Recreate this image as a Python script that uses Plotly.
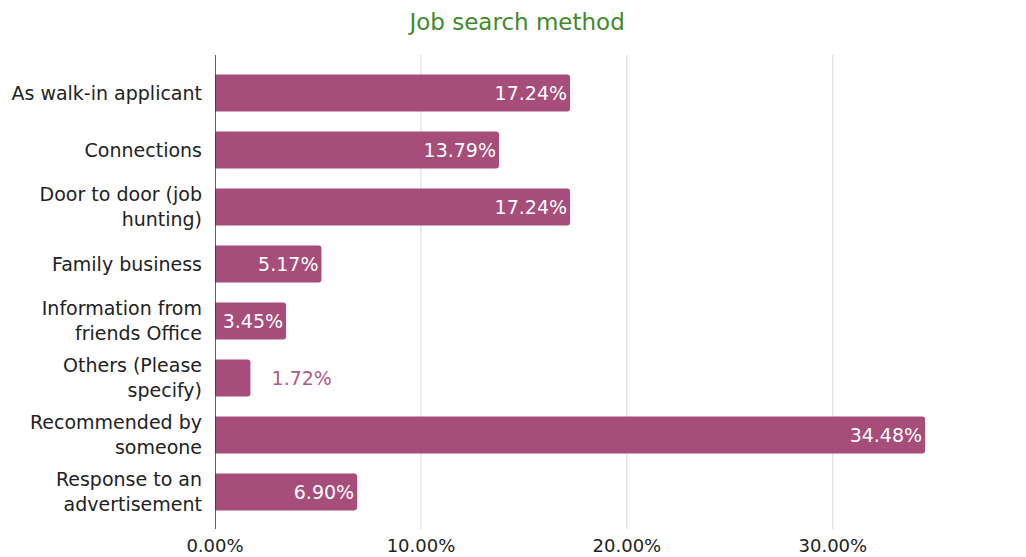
import plotly.graph_objects as go

# Share of respondents by job search method
methods = [
    "As walk-in applicant",
    "Connections",
    "Door to door (job<br>hunting)",
    "Family business",
    "Information from<br>friends Office",
    "Others (Please<br>specify)",
    "Recommended by<br>someone",
    "Response to an<br>advertisement",
]
shares = [0.1724, 0.1379, 0.1724, 0.0517, 0.0345, 0.0172, 0.3448, 0.0690]
label_pos = ["inside", "inside", "inside", "inside", "inside", "outside", "inside", "inside"]
tick_vals = [0, 0.1, 0.2, 0.3]
tick_text = ["0.00%", "10.00%", "20.00%", "30.00%"]

BAR = "#A64D79"
FONT = "DejaVu Sans, Verdana, sans-serif"

labels = [
    ("\u00a0\u00a0\u00a0" if p == "outside" else "") + f"{v * 100:.2f}%"
    for v, p in zip(shares, label_pos)
]

fig = go.Figure(
    go.Bar(
        x=shares,
        y=methods,
        orientation="h",
        marker=dict(color=BAR, cornerradius=3, line=dict(width=0)),
        text=labels,
        textposition=label_pos,
        insidetextanchor="end",
        insidetextfont=dict(color="white", size=19, family=FONT),
        outsidetextfont=dict(color="#B0588A", size=19, family=FONT),
        constraintext="none",
        cliponaxis=False,
        hoverinfo="skip",
    )
)

# vertical grid lines and the baseline span the full plot height
for v in tick_vals[1:]:
    fig.add_shape(type="line", xref="x", yref="paper", x0=v, x1=v, y0=0, y1=1,
                  line=dict(color="#D6D6D6", width=1), layer="below")
fig.add_shape(type="line", xref="x", yref="paper", x0=0, x1=0, y0=0, y1=1,
              line=dict(color="#333333", width=1.5), layer="above")

fig.update_layout(
    width=1026,
    height=557,
    paper_bgcolor="white",
    plot_bgcolor="white",
    margin=dict(l=215, r=49, t=55, b=28, autoexpand=False),
    bargap=0.35,
    showlegend=False,
    font=dict(family=FONT, color="#222222", size=18),
    title=dict(
        text="Job search method",
        x=0.504,
        xanchor="center",
        y=0.96,
        yanchor="middle",
        font=dict(family=FONT, size=23, color="#3F8A2A"),
    ),
)

fig.update_xaxes(
    range=[0, 0.37],
    tickvals=tick_vals,
    ticktext=tick_text,
    showgrid=False,
    zeroline=False,
    showline=False,
    ticks="",
    ticklabelstandoff=4,
    tickfont=dict(size=18, color="#222222"),
    automargin=False,
    fixedrange=True,
)

fig.update_yaxes(
    range=[7.65, -0.667],
    showline=False,
    ticks="",
    ticklabelstandoff=12,
    tickfont=dict(size=19, color="#222222"),
    showgrid=False,
    zeroline=False,
    automargin=False,
    fixedrange=True,
)

fig.write_html("out.html")
